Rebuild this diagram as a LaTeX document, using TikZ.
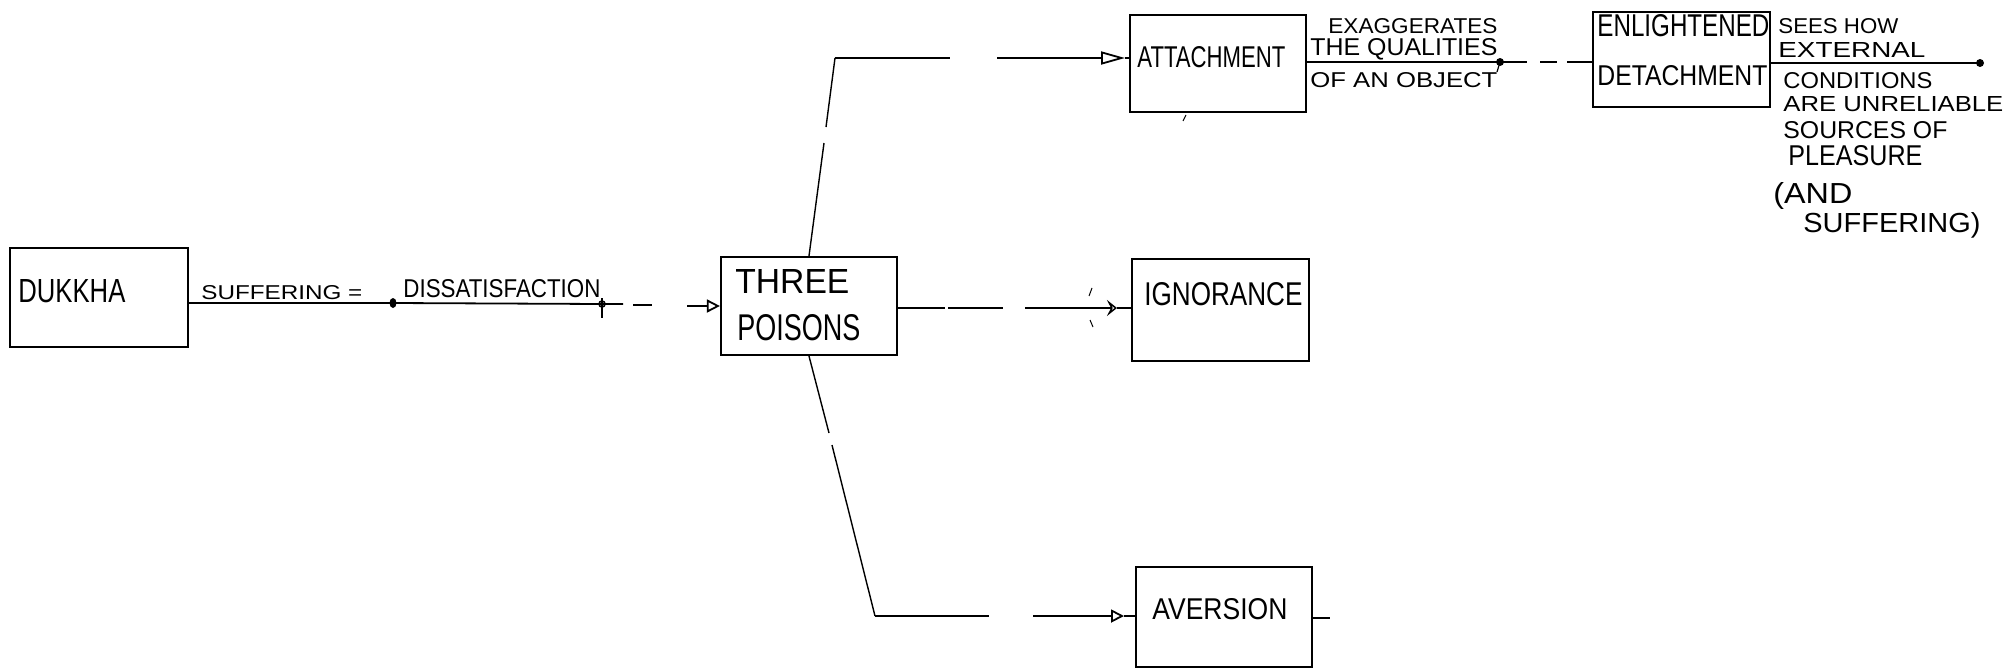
\documentclass[tikz,border=0pt]{standalone}
\usepackage{fontspec}
\setmainfont{Liberation Sans}
\usetikzlibrary{arrows.meta,calc}
% one unit of the drawing grid
\newdimen\pxu \pxu=0.5pt
% text squeezed to a given width and cap height (in grid units)
\newcommand{\hw}[3]{\resizebox{#1\pxu}{#2\pxu}{#3}}

\begin{document}
\begin{tikzpicture}[x=0.5pt,y=-0.5pt,
  box/.style={draw,line width=1.1pt,inner sep=0pt},
  conn/.style={line width=0.9pt},
  slim/.style={line width=0.7pt},
  txt/.style={inner sep=0pt,anchor=base west},
  tipbig/.style={-{Triangle[open,length=12pt,width=6.5pt]}},
  tipsmall/.style={-{Triangle[open,length=6.5pt,width=6.5pt]}},
  tipbarb/.style={-{Stealth[open,length=5pt,width=8pt,inset=2pt]}}]
\useasboundingbox (0,0) rectangle (2007,669);

% ---- boxes ----
\node[box,minimum width=89pt,minimum height=49.5pt] (dukkha)  at (99,297.5) {};
\node[box,minimum width=88pt,minimum height=49pt]   (poisons) at (809,306) {};
\node[box,minimum width=88pt,minimum height=48.5pt] (attach)  at (1218,63.5) {};
\node[box,minimum width=88.5pt,minimum height=51pt] (ignor)   at (1220.5,310) {};
\node[box,minimum width=88pt,minimum height=50pt]   (avers)   at (1224,617) {};
\node[box,minimum width=88.5pt,minimum height=47.5pt] (enlight) at (1681.5,59.5) {};

% ---- box texts ----
\node[txt] (tdukkha) at (18,302)   {\hw{107}{23}{DUKKHA}};
\node[txt] (tthree)  at (735,293)  {\hw{114}{24}{THREE}};
\node[txt] (tpois)   at (737,340)  {\hw{123}{26}{POISONS}};
\node[txt] (tatt)    at (1137,68)  {\hw{148}{21}{ATTACHMENT}};
\node[txt] (tign)    at (1144,305) {\hw{158}{23}{IGNORANCE}};
\node[txt] (tav)     at (1152,619) {\hw{135}{21}{AVERSION}};
\node[txt] (tenl)    at (1597,37)  {\hw{172}{22}{ENLIGHTENED}};
\node[txt] (tdet)    at (1597,85)  {\hw{170}{20}{DETACHMENT}};

% ---- connector labels ----
\node[txt] (lsuf)  at (201,299)  {\hw{161}{14}{SUFFERING =}};
\node[txt] (ldis)  at (403,297)  {\hw{197}{18}{DISSATISFACTION}};
\node[txt] (lex1)  at (1328,33)  {\hw{169}{15}{EXAGGERATES}};
\node[txt] (lex2)  at (1310,55)  {\hw{187}{17}{THE QUALITIES}};
\node[txt] (lex3)  at (1310,87)  {\hw{187}{15}{OF AN OBJECT}};
\node[txt] (ls1)   at (1778,33)  {\hw{120}{15}{SEES HOW}};
\node[txt] (ls2)   at (1778,57)  {\hw{147}{15}{EXTERNAL}};
\node[txt] (ls3)   at (1783,88)  {\hw{149}{16}{CONDITIONS}};
\node[txt] (ls4)   at (1783,112) {\hw{220}{15}{ARE UNRELIABLE}};
\node[txt] (ls5)   at (1783,138) {\hw{164}{17}{SOURCES OF}};
\node[txt] (ls6)   at (1788,165) {\hw{134}{20}{PLEASURE}};
\node[txt] (ls7)   at (1773,203) {\hw{79}{21}{(AND}};
\node[txt] (ls8)   at (1803,232) {\hw{177}{20}{SUFFERING)}};

% ---- points along the connectors ----
\coordinate (dot1)  at (393,303);
\coordinate (tick1) at (602,304);
\coordinate (m1) at (623,304);
\coordinate (m2) at (633,305);
\coordinate (m3) at (652,305);
\coordinate (m4) at (687,306);

\coordinate (ug1) at (824,143);
\coordinate (ug2) at (826,127);
\coordinate (ucorner) at (835,58);
\coordinate (uh1) at (950,58);
\coordinate (uh2) at (997,58);
\coordinate (atip) at (1125,58);

\coordinate (i1) at (945,308);
\coordinate (i2) at (948,308);
\coordinate (i3) at (1003,308);
\coordinate (i4) at (1025,308);
\coordinate (itip) at (1117,308);

\coordinate (lg1) at (829,433);
\coordinate (lg2) at (832,445);
\coordinate (lcorner) at (875,616);
\coordinate (lh1) at (989,616);
\coordinate (lh2) at (1033,616);
\coordinate (vtip) at (1124,616);
\coordinate (vstub) at (1330,618);

\coordinate (dot2) at (1500,62);
\coordinate (e1) at (1527,62);
\coordinate (e2) at (1540,62);
\coordinate (e3) at (1557,62);
\coordinate (e4) at (1567,62);
\coordinate (dot3) at (1980,63);

% ---- dukkha -> three poisons ----
\draw[conn] (dukkha.east |- dot1) -- (dot1) -- (tick1) -- (m1);
\draw[conn] (m2) -- (m3);
\draw[conn,tipsmall] (m4) -- (poisons.west |- m4);
\fill (dot1) ellipse [x radius=3.5, y radius=5];
\draw[conn] ($(tick1)+(0,-6)$) -- ($(tick1)+(0,14)$);
\draw[line width=0.8pt] (tick1) circle [radius=3];

% ---- three poisons -> attachment ----
\draw[slim] (poisons.north) -- (ug1);
\draw[slim] (ug2) -- (ucorner);
\draw[conn] (ucorner) -- (uh1);
\draw[conn,tipbig] (uh2) -- (atip);
\draw[conn] (atip) -- (attach.west |- atip);

% ---- three poisons -> ignorance ----
\draw[conn] (poisons.east |- i1) -- (i1);
\draw[conn] (i2) -- (i3);
\draw[conn,tipbarb] (i4) -- (itip);
\draw[conn] (itip) -- (ignor.west |- itip);

% ---- three poisons -> aversion ----
\draw[slim] (poisons.south) -- (lg1);
\draw[slim] (lg2) -- (lcorner);
\draw[conn] (lcorner) -- (lh1);
\draw[conn,tipsmall] (lh2) -- (vtip);
\draw[conn] (vtip) -- (avers.west |- vtip);
\draw[conn] (avers.east |- vstub) -- (vstub);

% ---- attachment -> enlightened detachment ----
\draw[conn] (attach.east |- dot2) -- (dot2) -- (e1);
\draw[conn] (e2) -- (e3);
\draw[conn] (e4) -- (enlight.west |- e4);
\draw[line width=0.9pt,fill] (dot2) circle [radius=3];
\draw[line width=0.6pt] (dot2) -- ++(-3,10);

% ---- enlightened detachment -> outcome ----
\draw[conn] (enlight.east |- dot3) -- (dot3);
\draw[line width=0.9pt,fill] (dot3) circle [radius=3];

% ---- loose pencil marks ----
\draw[line width=0.5pt] (1089,296) -- (1092,288);
\draw[line width=0.5pt] (1090,320) -- (1093,327);
\draw[line width=0.5pt] (1183,121) -- (1186,115);
\end{tikzpicture}
\end{document}
